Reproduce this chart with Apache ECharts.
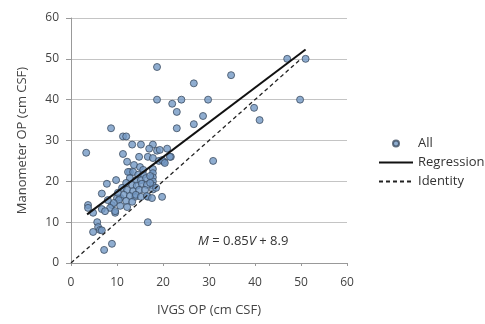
<!DOCTYPE html>
<html>
<head>
<meta charset="utf-8">
<script src="https://cdn.jsdelivr.net/npm/echarts@6/dist/echarts.min.js"></script>
<style>
  html, body { margin: 0; padding: 0; background: #fff; }
  #chart { width: 485px; height: 324px; }
</style>
</head>
<body>
<div id="chart"></div>
<script>
// IVGS OP vs manometer OP (cm CSF)
var allPoints = [
  [18.7, 48], [26.7, 44], [18.7, 40], [22, 39], [24, 40], [29.8, 40], [23, 37], [28.7, 36],
  [23, 33], [26.7, 34], [8.7, 33], [11.3, 31], [12, 31], [47, 50], [51, 50], [34.8, 46],
  [49.8, 40], [39.8, 38], [41, 35], [30.9, 25], [3.3, 27],
  [13.3, 29], [15.2, 29], [17.8, 29], [17, 28], [18.7, 27.5], [20.9, 28], [11.3, 26.7],
  [14.8, 26], [16.7, 26], [17.8, 25.7], [19.1, 25], [21.7, 26], [20.2, 24.8], [12.2, 24.8],
  [13.7, 24], [15, 23.5], [15.7, 22.8], [12.8, 22.3], [17.8, 23], [17.8, 22], [17.8, 21],
  [17.8, 20], [17.8, 19], [17.8, 18], [7.8, 19.4], [9.8, 20.3], [6.7, 17], [3.7, 14.2],
  [3.7, 13.5], [4.8, 12.3], [6.7, 13.2], [8.9, 14.2], [10, 15.9], [9.6, 12.3], [5.7, 10],
  [5.9, 8.8], [6.3, 8.1], [4.8, 7.6], [6.7, 8], [8.9, 4.7], [7.2, 3.2], [16.7, 10],
  [16.7, 16.2], [19.8, 16.2], [13.9, 16.2], [10.7, 16],
  [12.4, 22.3], [13.5, 22.3], [14.6, 21.6], [15.7, 21.6], [12.8, 20.8], [14.1, 20.3],
  [15.2, 20.3], [16.3, 20.8], [12, 19.6], [13.3, 19.1], [14.3, 18.9], [15.4, 19.4],
  [16.5, 19.1], [11.1, 18.4], [12.2, 17.9], [13.5, 17.6], [14.8, 17.9], [16.1, 17.9],
  [10.2, 17.2], [11.5, 16.7], [12.8, 16.4], [14.1, 16.7], [15.2, 16.2], [10.4, 15.4],
  [12, 15.2], [13.3, 15], [9.3, 14.7], [10.7, 14], [12.2, 13.7], [8.5, 13.5], [9.6, 12.7],
  [7.4, 12.7], [8, 15.4], [17.2, 21.3], [17.2, 19.6], [16.5, 16.4], [17.6, 15.9], [18.5, 18.4],
  [19.3, 27.7], [21.5, 26], [19.8, 25.2], [20.4, 24.5]
];
var regressionLine = [[3.5, 11.9], [51, 52.3]];
var identityLine = [[0, 0], [50, 50]];
var xTicks = [0, 10, 20, 30, 40, 50, 60];
var yTicks = [0, 10, 20, 30, 40, 50, 60];

var font = "'Open Sans', 'Noto Sans', sans-serif";
var chart = echarts.init(document.getElementById('chart'));

var option = {
  backgroundColor: '#fff',
  animation: false,
  textStyle: { fontFamily: font },
  grid: { left: 71, right: 138, top: 18, bottom: 61 },
  legend: {
    orient: 'vertical',
    left: 373,
    top: 132,
    itemWidth: 34,
    itemHeight: 6,
    itemGap: 6,
    textStyle: { color: '#333', fontSize: 13, fontFamily: font },
    data: [
      { name: 'All', icon: 'circle' },
      { name: 'Regression', itemStyle: { opacity: 0 } },
      { name: 'Identity', itemStyle: { opacity: 0 } }
    ]
  },
  xAxis: {
    type: 'value',
    min: xTicks[0],
    max: xTicks[xTicks.length - 1],
    interval: 10,
    name: 'IVGS OP (cm CSF)',
    nameLocation: 'middle',
    nameGap: 41,
    nameTextStyle: { color: '#444', fontSize: 13 },
    axisLine: { lineStyle: { color: '#999' } },
    axisTick: { show: true, length: 3, lineStyle: { color: '#999' } },
    axisLabel: { color: '#444', fontSize: 12, margin: 14 },
    splitLine: { show: false }
  },
  yAxis: {
    type: 'value',
    min: yTicks[0],
    max: yTicks[yTicks.length - 1],
    interval: 10,
    name: 'Manometer OP (cm CSF)',
    nameLocation: 'middle',
    nameGap: 42,
    nameTextStyle: { color: '#444', fontSize: 13 },
    axisLine: { show: true, lineStyle: { color: '#999' } },
    axisTick: { show: true, length: 5, lineStyle: { color: '#999' } },
    axisLabel: { color: '#444', fontSize: 12, margin: 12 },
    splitLine: { show: true, lineStyle: { color: '#c4c4c4' } }
  },
  series: [
    {
      name: 'All',
      type: 'scatter',
      data: allPoints,
      symbolSize: 7,
      itemStyle: { color: '#7399c4', borderColor: '#3c4c60', borderWidth: 1 },
      z: 3
    },
    {
      name: 'Regression',
      type: 'line',
      data: regressionLine,
      symbol: 'none',
      lineStyle: { color: '#111', width: 2 },
      itemStyle: { color: '#111' },
      z: 4
    },
    {
      name: 'Identity',
      type: 'line',
      data: identityLine,
      symbol: 'none',
      lineStyle: { color: '#222', width: 1.3, type: [4, 3] },
      itemStyle: { color: '#222' },
      z: 4
    }
  ],
  graphic: [
    {
      type: 'text',
      left: 198,
      top: 235,
      style: {
        text: '{i|M} = 0.85{i|V} + 8.9',
        fill: '#333',
        font: '13px ' + font,
        rich: {
          i: { fontStyle: 'italic', fontSize: 13, fill: '#333', fontFamily: font }
        }
      }
    }
  ]
};

chart.setOption(option);
</script>
</body>
</html>
